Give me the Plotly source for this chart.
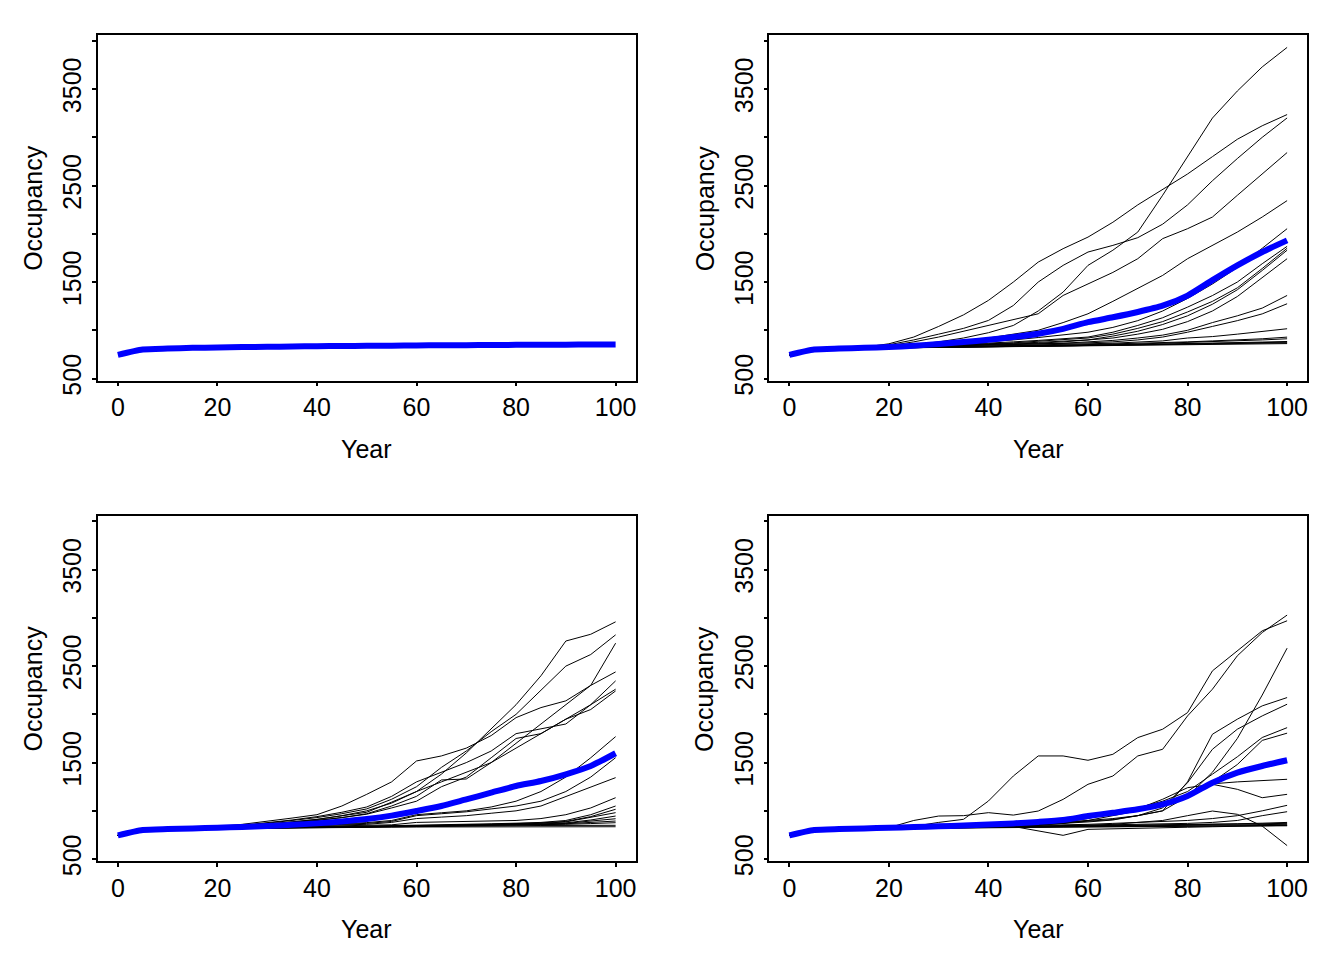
import plotly.graph_objects as go

YEARS = list(range(0, 101, 5))

# Panel 1 (top-left): mean only
p1_mean = [746, 801, 811, 818, 822, 826, 829, 832, 835, 837, 839, 841, 843, 845, 846, 848, 849, 850, 851, 852, 853]

# Panel 2 (top-right)
p2_runs = [
    [746, 801, 811, 818, 830, 850, 880, 920, 975, 1050, 1200, 1396, 1673, 1830, 2018, 2400, 2800, 3200, 3480, 3730, 3932],
    [746, 801, 811, 825, 860, 930, 1040, 1160, 1310, 1500, 1707, 1846, 1966, 2120, 2300, 2460, 2620, 2800, 2980, 3120, 3236],
    [746, 801, 811, 822, 850, 900, 960, 1020, 1102, 1257, 1500, 1673, 1811, 1880, 1960, 2100, 2300, 2550, 2780, 3000, 3201],
    [746, 801, 811, 820, 840, 880, 930, 990, 1050, 1110, 1171, 1361, 1483, 1600, 1742, 1950, 2053, 2174, 2399, 2624, 2842],
    [746, 801, 811, 818, 830, 850, 870, 895, 920, 960, 1000, 1080, 1171, 1300, 1431, 1569, 1742, 1880, 2018, 2174, 2344],
    [746, 801, 811, 818, 826, 838, 850, 865, 880, 900, 925, 950, 980, 1030, 1100, 1200, 1330, 1480, 1650, 1850, 2053],
    [746, 801, 811, 818, 826, 835, 845, 855, 865, 880, 895, 910, 930, 980, 1050, 1130, 1240, 1360, 1500, 1690, 1870],
    [746, 801, 811, 818, 825, 832, 840, 850, 860, 870, 885, 900, 920, 960, 1020, 1090, 1190, 1300, 1440, 1640, 1850],
    [746, 801, 811, 818, 825, 830, 838, 846, 855, 865, 875, 888, 900, 940, 990, 1060, 1150, 1270, 1420, 1620, 1830],
    [746, 801, 811, 818, 824, 830, 836, 842, 850, 858, 866, 880, 900, 920, 960, 1010, 1090, 1200, 1350, 1550, 1742],
    [746, 801, 811, 817, 822, 828, 834, 840, 846, 852, 858, 866, 880, 895, 920, 950, 1000, 1080, 1150, 1230, 1361],
    [746, 801, 811, 817, 822, 827, 832, 837, 842, 848, 854, 862, 870, 880, 900, 930, 980, 1040, 1100, 1170, 1275],
    [746, 801, 811, 817, 821, 825, 829, 833, 837, 842, 846, 851, 860, 866, 880, 890, 920, 935, 960, 985, 1016],
    [746, 801, 811, 816, 820, 824, 828, 832, 836, 840, 844, 848, 852, 858, 865, 872, 880, 890, 900, 912, 929],
    [746, 801, 811, 816, 820, 823, 826, 829, 832, 835, 838, 842, 846, 852, 858, 865, 873, 882, 890, 900, 912],
    [746, 801, 811, 815, 819, 822, 825, 828, 831, 834, 837, 840, 843, 847, 852, 857, 862, 867, 872, 878, 884],
    [746, 801, 811, 815, 818, 821, 824, 827, 830, 833, 836, 839, 842, 845, 849, 853, 858, 863, 868, 872, 877],
    [746, 801, 811, 815, 818, 821, 823, 826, 829, 832, 835, 838, 841, 844, 847, 851, 855, 859, 863, 866, 870],
    [746, 801, 811, 814, 817, 820, 822, 825, 828, 830, 833, 836, 839, 842, 845, 848, 851, 854, 857, 860, 862],
]
p2_mean = [746, 801, 811, 818, 826, 840, 858, 878, 902, 930, 965, 1015, 1084, 1135, 1190, 1255, 1360, 1520, 1673, 1811, 1932]

# Panel 3 (bottom-left)
p3_runs = [
    [746, 801, 811, 818, 826, 840, 860, 885, 910, 950, 1000, 1080, 1200, 1380, 1600, 1850, 2100, 2400, 2760, 2830, 2959],
    [746, 801, 811, 818, 828, 845, 870, 900, 930, 970, 1020, 1120, 1250, 1450, 1620, 1820, 2000, 2250, 2500, 2620, 2824],
    [746, 801, 811, 818, 825, 838, 855, 875, 900, 930, 970, 1050, 1150, 1320, 1330, 1500, 1700, 1900, 2100, 2300, 2738],
    [746, 801, 811, 820, 835, 860, 890, 925, 960, 1050, 1171, 1300, 1517, 1569, 1650, 1780, 1966, 2070, 2140, 2300, 2440],
    [746, 801, 811, 818, 830, 850, 875, 905, 940, 985, 1040, 1150, 1300, 1400, 1500, 1620, 1800, 1850, 1900, 2100, 2347],
    [746, 801, 811, 818, 827, 842, 862, 885, 912, 945, 985, 1090, 1200, 1300, 1400, 1500, 1650, 1800, 1950, 2100, 2261],
    [746, 801, 811, 818, 826, 838, 855, 875, 900, 930, 965, 1030, 1100, 1250, 1350, 1550, 1750, 1800, 1950, 2050, 2243],
    [746, 801, 811, 817, 823, 830, 838, 846, 855, 866, 878, 900, 960, 980, 1000, 1040, 1100, 1200, 1350, 1550, 1769],
    [746, 801, 811, 817, 822, 828, 835, 842, 850, 860, 870, 890, 950, 970, 990, 1020, 1050, 1100, 1200, 1350, 1551],
    [746, 801, 811, 817, 822, 827, 832, 838, 845, 852, 860, 880, 920, 935, 950, 975, 1000, 1050, 1150, 1250, 1344],
    [746, 801, 811, 816, 820, 824, 828, 832, 836, 841, 846, 855, 880, 885, 890, 895, 900, 920, 960, 1030, 1136],
    [746, 801, 811, 816, 820, 823, 826, 829, 832, 836, 840, 845, 850, 855, 860, 866, 872, 880, 900, 960, 1050],
    [746, 801, 811, 816, 819, 822, 825, 828, 831, 834, 837, 841, 845, 850, 855, 860, 866, 875, 890, 940, 1016],
    [746, 801, 811, 815, 819, 822, 825, 828, 831, 834, 837, 840, 843, 847, 851, 856, 862, 870, 885, 930, 981],
    [746, 801, 811, 815, 818, 821, 824, 827, 830, 833, 836, 839, 842, 845, 849, 853, 858, 864, 875, 905, 946],
    [746, 801, 811, 815, 818, 821, 823, 826, 829, 832, 835, 838, 841, 844, 847, 851, 855, 860, 870, 895, 918],
    [746, 801, 811, 815, 818, 820, 823, 825, 828, 831, 834, 836, 839, 842, 845, 849, 853, 858, 866, 880, 894],
    [746, 801, 811, 814, 817, 820, 822, 825, 827, 830, 833, 835, 838, 841, 844, 847, 851, 855, 860, 868, 877],
    [746, 801, 811, 814, 817, 819, 822, 824, 827, 829, 832, 834, 837, 839, 842, 844, 846, 848, 849, 850, 850],
    [746, 801, 811, 814, 816, 819, 821, 823, 825, 827, 829, 831, 833, 834, 835, 836, 836, 837, 836, 836, 835],
]
p3_mean = [746, 801, 811, 818, 825, 833, 843, 855, 870, 890, 915, 950, 998, 1050, 1119, 1188, 1257, 1309, 1379, 1465, 1597]

# Panel 4 (bottom-right)
p4_runs = [
    [746, 801, 811, 818, 826, 840, 880, 912, 1102, 1361, 1569, 1569, 1524, 1586, 1759, 1846, 2018, 2451, 2659, 2866, 2970],
    [746, 801, 811, 818, 826, 900, 946, 950, 981, 956, 998, 1119, 1275, 1361, 1569, 1638, 1984, 2261, 2607, 2848, 3029],
    [746, 801, 811, 817, 822, 828, 835, 842, 850, 858, 866, 880, 900, 920, 950, 1000, 1150, 1400, 1750, 2200, 2686],
    [746, 801, 811, 817, 822, 828, 834, 840, 847, 855, 864, 875, 890, 910, 950, 1000, 1300, 1794, 1950, 2088, 2174],
    [746, 801, 811, 817, 822, 827, 833, 839, 845, 852, 860, 870, 885, 905, 950, 1030, 1292, 1638, 1846, 1984, 2105],
    [746, 801, 811, 817, 822, 827, 832, 838, 845, 852, 860, 880, 950, 980, 1030, 1100, 1200, 1380, 1560, 1760, 1862],
    [746, 801, 811, 817, 821, 826, 831, 836, 842, 848, 856, 870, 940, 960, 1000, 1060, 1150, 1300, 1480, 1730, 1805],
    [746, 801, 811, 817, 821, 825, 830, 835, 840, 846, 852, 870, 900, 950, 1000, 1050, 1150, 1280, 1300, 1310, 1327],
    [746, 801, 811, 816, 821, 825, 830, 835, 840, 846, 852, 880, 920, 980, 1020, 1120, 1240, 1275, 1223, 1136, 1171],
    [746, 801, 811, 816, 820, 824, 828, 832, 836, 840, 845, 850, 860, 870, 880, 890, 900, 920, 950, 1000, 1057],
    [746, 801, 811, 816, 820, 823, 827, 830, 834, 838, 842, 846, 850, 855, 860, 865, 870, 880, 900, 950, 991],
    [746, 801, 811, 816, 820, 823, 826, 830, 833, 837, 840, 845, 850, 860, 880, 900, 950, 998, 964, 842, 640],
    [746, 801, 811, 817, 822, 828, 833, 838, 840, 838, 790, 746, 808, 815, 820, 825, 830, 835, 840, 845, 850],
    [746, 801, 811, 816, 819, 822, 825, 828, 831, 834, 837, 840, 843, 846, 849, 852, 856, 860, 866, 872, 880],
    [746, 801, 811, 815, 818, 821, 824, 827, 830, 833, 835, 838, 841, 843, 846, 849, 852, 856, 860, 865, 870],
    [746, 801, 811, 815, 818, 821, 823, 826, 828, 831, 833, 836, 838, 841, 843, 846, 849, 852, 855, 858, 860],
    [746, 801, 811, 815, 817, 820, 822, 824, 827, 829, 831, 833, 835, 837, 839, 841, 843, 845, 847, 849, 850],
    [746, 801, 811, 814, 817, 819, 821, 823, 825, 827, 829, 831, 833, 835, 837, 839, 840, 842, 843, 844, 845],
]
p4_mean = [746, 801, 811, 818, 825, 832, 840, 848, 858, 870, 885, 905, 946, 980, 1016, 1067, 1154, 1292, 1396, 1465, 1524]

Y_TICKS = [500, 1000, 1500, 2000, 2500, 3000, 3500, 4000]
Y_TICKTEXT = ["500", "", "1500", "", "2500", "", "3500", ""]
X_TICKS = [0, 20, 40, 60, 80, 100]

OFF = 8          # browser body margin
VS = 0.983       # observed vertical scale of the rendered page
W, H = 1344 - 2 * OFF, 960 - 2 * OFF


def fx(px):
    return px - OFF


def fy(py):
    return py / VS - OFF


panels = [
    # (runs, mean, box left, box right, box top, box bottom) in screen px
    ([], p1_mean, 98, 636, 35, 380),
    (p2_runs, p2_mean, 770, 1308, 35, 380),
    (p3_runs, p3_mean, 98, 636, 515, 860),
    (p4_runs, p4_mean, 770, 1308, 515, 860),
]

FONT = "Liberation Sans, Arial, sans-serif"
FS = 25
fig = go.Figure()
annotations = []
layout = dict(
    width=W, height=H, margin=dict(l=0, r=0, t=0, b=0),
    paper_bgcolor="white", plot_bgcolor="white", showlegend=False,
    font=dict(family=FONT, size=FS, color="black"),
)

for i, (runs, mean, l, r, t, b) in enumerate(panels, start=1):
    year_y = fy(b + 68)
    l, r, t, b = fx(l), fx(r), fy(t), fy(b)
    xa = "x" if i == 1 else f"x{i}"
    ya = "y" if i == 1 else f"y{i}"
    for run in runs:
        fig.add_trace(go.Scatter(x=YEARS, y=run, mode="lines", xaxis=xa, yaxis=ya,
                                 line=dict(color="black", width=1), hoverinfo="skip"))
    fig.add_trace(go.Scatter(x=YEARS, y=mean, mode="lines", xaxis=xa, yaxis=ya,
                             line=dict(color="#0000ff", width=6, shape="spline", smoothing=0.6)))
    axis_common = dict(showgrid=False, zeroline=False, showline=True, mirror=True,
                       linecolor="black", linewidth=1.5, ticks="outside", ticklen=4,
                       tickwidth=1.5, tickcolor="black",
                       tickfont=dict(family=FONT, size=FS, color="black"))
    layout["xaxis" if i == 1 else f"xaxis{i}"] = dict(
        axis_common, domain=[l / W, r / W], range=[-4, 104], anchor=ya,
        tickmode="array", tickvals=X_TICKS, ticktext=[str(v) for v in X_TICKS],
        ticklabelstandoff=0)
    layout["yaxis" if i == 1 else f"yaxis{i}"] = dict(
        axis_common, domain=[1 - b / H, 1 - t / H], range=[479, 4059], anchor=xa,
        tickmode="array", tickvals=Y_TICKS, ticktext=Y_TICKTEXT, tickangle=-90,
        ticklabelstandoff=1)
    annotations.append(dict(text="Year", xref="paper", yref="paper",
                            x=(l + r) / 2 / W, y=1 - year_y / H, showarrow=False,
                            font=dict(family=FONT, size=FS, color="black"),
                            xanchor="center", yanchor="middle"))
    annotations.append(dict(text="Occupancy", xref="paper", yref="paper",
                            x=(l - 65) / W, y=1 - (t + b) / 2 / H, showarrow=False,
                            textangle=-90,
                            font=dict(family=FONT, size=FS, color="black"),
                            xanchor="center", yanchor="middle"))

layout["annotations"] = annotations
fig.update_layout(**layout)
fig.write_html("out.html")
